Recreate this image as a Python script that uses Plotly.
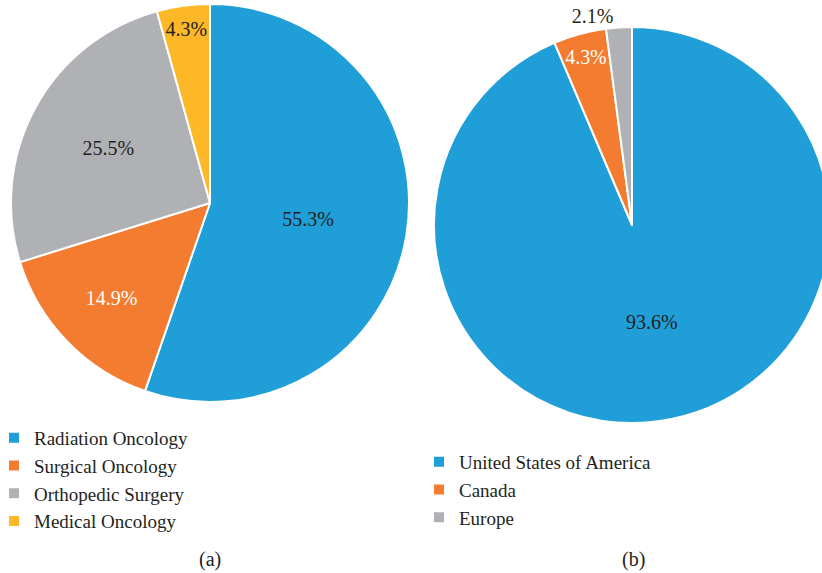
import plotly.graph_objects as go

specialties = ["Radiation Oncology", "Surgical Oncology", "Orthopedic Surgery", "Medical Oncology"]
specialty_pct = [55.3, 14.9, 25.5, 4.3]
specialty_colors = ["#1f9ed8", "#f47c30", "#b0b1b5", "#fdb827"]
specialty_textcolors = ["#231f20", "#ffffff", "#231f20", "#231f20"]

regions = ["United States of America", "Canada", "Europe"]
region_pct = [93.6, 4.3, 2.1]
region_colors = ["#1f9ed8", "#f47c30", "#b0b1b5"]
region_textcolors = ["#231f20", "#ffffff", "#231f20"]
region_textpos = ["inside", "inside", "outside"]

panel_labels = ["(a)", "(b)"]

FONT = "Liberation Serif"
FS = 20
LFS = 19
W, H = 830, 573

fig = go.Figure()
fig.add_trace(go.Pie(
    labels=specialties, values=specialty_pct, sort=False, direction="clockwise", rotation=0,
    marker=dict(colors=specialty_colors, line=dict(color="white", width=2)),
    texttemplate="%{value:.1f}%", textposition="inside", insidetextorientation="horizontal",
    textfont=dict(family=FONT, size=FS, color=specialty_textcolors),
    domain=dict(x=[11 / W, 409 / W], y=[1 - 402 / H, 1 - 4 / H]),
    legend="legend", hoverinfo="label+percent",
))
fig.add_trace(go.Pie(
    labels=regions, values=region_pct, sort=False, direction="clockwise", rotation=0,
    marker=dict(colors=region_colors, line=dict(color="white", width=2)),
    texttemplate="%{value:.1f}%", textposition=region_textpos, insidetextorientation="horizontal",
    textfont=dict(family=FONT, size=FS, color=region_textcolors),
    outsidetextfont=dict(family=FONT, size=FS, color="#231f20"),
    domain=dict(x=[434 / W, 1.0], y=[1 - 424 / H, 1 - 26 / H]),
    legend="legend2", hoverinfo="label+percent",
))

fig.update_layout(
    width=W, height=H, margin=dict(l=0, r=0, t=0, b=0, autoexpand=False),
    paper_bgcolor="white", plot_bgcolor="white",
    font=dict(family=FONT, size=FS, color="#231f20"),
    legend=dict(x=-6 / W, y=1 - 419 / H, xanchor="left", yanchor="top",
                font=dict(family=FONT, size=LFS, color="#231f20"), tracegroupgap=0,
                itemwidth=30, bgcolor="rgba(0,0,0,0)"),
    legend2=dict(x=419 / W, y=1 - 443 / H, xanchor="left", yanchor="top",
                 font=dict(family=FONT, size=LFS, color="#231f20"), tracegroupgap=0,
                 itemwidth=30, bgcolor="rgba(0,0,0,0)"),
    annotations=[
        dict(text=panel_labels[0], x=210 / W, y=1 - 559 / H, xref="paper", yref="paper",
             xanchor="center", yanchor="middle", showarrow=False,
             font=dict(family=FONT, size=FS, color="#231f20")),
        dict(text=panel_labels[1], x=633 / W, y=1 - 559 / H, xref="paper", yref="paper",
             xanchor="center", yanchor="middle", showarrow=False,
             font=dict(family=FONT, size=FS, color="#231f20")),
    ],
)

fig.write_html("out.html", config={"displayModeBar": False},
               post_script="document.body.style.margin='0';document.body.style.overflow='hidden';")
